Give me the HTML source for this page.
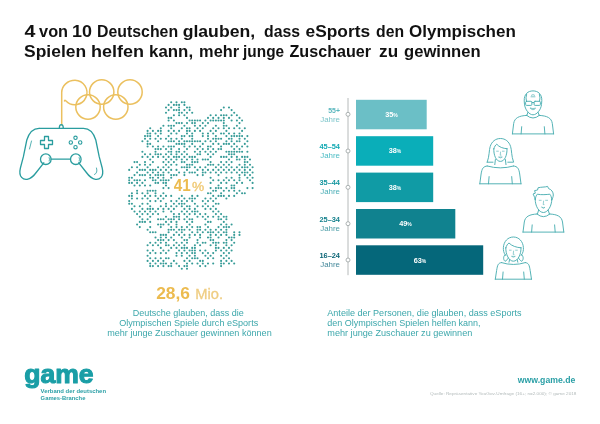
<!DOCTYPE html>
<html lang="de">
<head>
<meta charset="utf-8">
<title>eSports und Olympische Spiele</title>
<style>
html,body{margin:0;padding:0;background:#fff;}
body{width:600px;height:424px;overflow:hidden;font-family:"Liberation Sans",sans-serif;}
svg{display:block;position:absolute;left:0;top:0;}
text{font-family:"Liberation Sans",sans-serif;}
.t{fill:#111;font-weight:bold;font-size:15.6px;}
.teal{fill:#2fa3a8;}
.p{fill:#3ca7ab;font-size:8.7px;}
.lab{fill:#2a9fa6;font-size:7.4px;font-weight:bold;text-anchor:end;}
.lab2{fill:#5fb8bd;font-size:7.4px;text-anchor:end;}
.pc{fill:#fff;font-size:7.3px;font-weight:bold;text-anchor:middle;}
.ic{fill:none;stroke:#4cafb2;stroke-width:0.95;stroke-linecap:round;stroke-linejoin:round;}
</style>
</head>
<body>
<svg width="600" height="424" viewBox="0 0 600 424">
<rect width="600" height="424" fill="#fff"/>

<!-- title -->
<text class="t" y="37.3"><tspan x="24.6" textLength="10.9" lengthAdjust="spacingAndGlyphs">4</tspan> <tspan x="39.1" textLength="29.0" lengthAdjust="spacingAndGlyphs">von</tspan> <tspan x="72.1" textLength="20.0" lengthAdjust="spacingAndGlyphs">10</tspan> <tspan x="97.1" textLength="81.0" lengthAdjust="spacingAndGlyphs">Deutschen</tspan> <tspan x="182.7" textLength="72.4" lengthAdjust="spacingAndGlyphs">glauben,</tspan> <tspan x="264.1" textLength="36.0" lengthAdjust="spacingAndGlyphs">dass</tspan> <tspan x="305.5" textLength="64.6" lengthAdjust="spacingAndGlyphs">eSports</tspan> <tspan x="376.1" textLength="28.0" lengthAdjust="spacingAndGlyphs">den</tspan> <tspan x="409.1" textLength="106.7" lengthAdjust="spacingAndGlyphs">Olympischen</tspan></text>
<text class="t" y="57.3"><tspan x="24.1" textLength="62.0" lengthAdjust="spacingAndGlyphs">Spielen</tspan> <tspan x="91.1" textLength="53.0" lengthAdjust="spacingAndGlyphs">helfen</tspan> <tspan x="149.1" textLength="44.0" lengthAdjust="spacingAndGlyphs">kann,</tspan> <tspan x="199.1" textLength="40.0" lengthAdjust="spacingAndGlyphs">mehr</tspan> <tspan x="243.1" textLength="41.0" lengthAdjust="spacingAndGlyphs">junge</tspan> <tspan x="289.5" textLength="81.6" lengthAdjust="spacingAndGlyphs">Zuschauer</tspan> <tspan x="379.1" textLength="19.0" lengthAdjust="spacingAndGlyphs">zu</tspan> <tspan x="404.1" textLength="76.5" lengthAdjust="spacingAndGlyphs">gewinnen</tspan></text>

<!-- olympic rings + cable -->
<g fill="none" stroke="#ebc05f" stroke-width="1.5" stroke-linecap="round">
<path d="M61.7 125 V92.5 A13.3 12.2 0 0 1 75 80.3 A12.2 12.2 0 1 1 66 101 Q64.5 99.5 64.5 101"/>
<circle cx="101.7" cy="92" r="12.2"/>
<circle cx="130" cy="92" r="12.2"/>
<circle cx="88" cy="107" r="12.2"/>
<circle cx="115.8" cy="107" r="12.2"/>
</g>

<!-- controller -->
<g id="pad" fill="none" stroke="#2a9d9f" stroke-width="1.3" stroke-linecap="round" stroke-linejoin="round">
<path d="M59.3 128.3 Q59.3 124.6 61.3 124.6 Q63.3 124.6 63.3 128.3"/>
<path d="M39.1 128.3 H83.5 C90 128.3 93.5 132.5 95.8 140 L99.2 156.7 L102.2 168 C104.5 177.5 99 179.8 95.5 179.3 C91.5 178.8 88.5 175.5 86 172 L78.8 162.8"/>
<path d="M39.1 128.3 C32.6 128.3 29.1 132.5 26.8 140 L23.4 156.7 L20.4 168 C18.1 177.5 23.6 179.8 27.1 179.3 C31.1 178.8 34.1 175.5 36.6 172 L43.8 162.8"/>
<circle cx="45.8" cy="159.2" r="5.3"/>
<circle cx="75.8" cy="159.2" r="5.3"/>
<path d="M51.1 159.2 H70.5"/>
<path d="M49.2 157.5 Q50 159.2 49.2 161" stroke-width="0.8"/>
<path d="M79.2 157.5 Q80 159.2 79.2 161" stroke-width="0.8"/>
<path d="M44.5 136.5 h4 v4 h4 v4 h-4 v4 h-4 v-4 h-4 v-4 h4 z" stroke-width="1.3"/>
<circle cx="75.5" cy="137.8" r="1.7" stroke-width="1.1"/>
<circle cx="75.5" cy="147.2" r="1.7" stroke-width="1.1"/>
<circle cx="70.8" cy="142.5" r="1.7" stroke-width="1.1"/>
<circle cx="80.2" cy="142.5" r="1.7" stroke-width="1.1"/>
<path d="M31.5 141 L29.5 149" stroke-width="0.8"/>
<path d="M96.5 168 Q98 173 94.5 174.5" stroke-width="0.8"/>
</g>

<!-- germany dots -->
<path id="de" d="M171.2 102.3h0M176.5 102.3h0M181.8 102.3h0M184.4 102.3h0M168.6 104.9h0M173.9 104.9h0M176.5 104.9h0M179.1 104.9h0M184.4 104.9h0M166.0 107.5h0M171.2 107.5h0M179.1 107.5h0M187.0 107.5h0M189.6 107.5h0M223.8 107.5h0M229.0 107.5h0M168.6 110.1h0M173.9 110.1h0M176.5 110.1h0M179.1 110.1h0M184.4 110.1h0M189.6 110.1h0M221.1 110.1h0M231.6 110.1h0M166.0 112.7h0M179.1 112.7h0M181.8 112.7h0M187.0 112.7h0M192.2 112.7h0M234.2 112.7h0M173.9 115.3h0M179.1 115.3h0M184.4 115.3h0M210.6 115.3h0M215.9 115.3h0M221.1 115.3h0M223.8 115.3h0M226.4 115.3h0M231.6 115.3h0M236.9 115.3h0M168.6 117.9h0M171.2 117.9h0M187.0 117.9h0M208.0 117.9h0M213.2 117.9h0M218.5 117.9h0M223.8 117.9h0M229.0 117.9h0M239.5 117.9h0M168.6 120.5h0M173.9 120.5h0M189.6 120.5h0M192.2 120.5h0M194.9 120.5h0M197.5 120.5h0M200.1 120.5h0M205.4 120.5h0M210.6 120.5h0M213.2 120.5h0M215.9 120.5h0M218.5 120.5h0M221.1 120.5h0M223.8 120.5h0M231.6 120.5h0M236.9 120.5h0M242.1 120.5h0M176.5 123.1h0M179.1 123.1h0M181.8 123.1h0M187.0 123.1h0M192.2 123.1h0M194.9 123.1h0M202.8 123.1h0M208.0 123.1h0M223.8 123.1h0M239.5 123.1h0M163.4 125.7h0M168.6 125.7h0M171.2 125.7h0M173.9 125.7h0M184.4 125.7h0M194.9 125.7h0M200.1 125.7h0M205.4 125.7h0M215.9 125.7h0M223.8 125.7h0M226.4 125.7h0M236.9 125.7h0M150.2 128.3h0M160.8 128.3h0M171.2 128.3h0M181.8 128.3h0M187.0 128.3h0M189.6 128.3h0M197.5 128.3h0M202.8 128.3h0M213.2 128.3h0M218.5 128.3h0M223.8 128.3h0M229.0 128.3h0M234.2 128.3h0M239.5 128.3h0M244.8 128.3h0M147.6 130.9h0M152.9 130.9h0M158.1 130.9h0M160.8 130.9h0M168.6 130.9h0M173.9 130.9h0M179.1 130.9h0M187.0 130.9h0M189.6 130.9h0M194.9 130.9h0M200.1 130.9h0M210.6 130.9h0M215.9 130.9h0M226.4 130.9h0M242.1 130.9h0M147.6 133.5h0M150.2 133.5h0M155.5 133.5h0M160.8 133.5h0M171.2 133.5h0M176.5 133.5h0M187.0 133.5h0M192.2 133.5h0M202.8 133.5h0M208.0 133.5h0M213.2 133.5h0M221.1 133.5h0M223.8 133.5h0M229.0 133.5h0M234.2 133.5h0M239.5 133.5h0M145.0 136.1h0M147.6 136.1h0M150.2 136.1h0M158.1 136.1h0M168.6 136.1h0M181.8 136.1h0M184.4 136.1h0M189.6 136.1h0M192.2 136.1h0M202.8 136.1h0M208.0 136.1h0M215.9 136.1h0M226.4 136.1h0M231.6 136.1h0M234.2 136.1h0M236.9 136.1h0M239.5 136.1h0M242.1 136.1h0M247.4 136.1h0M145.0 138.7h0M150.2 138.7h0M155.5 138.7h0M160.8 138.7h0M166.0 138.7h0M171.2 138.7h0M176.5 138.7h0M181.8 138.7h0M192.2 138.7h0M208.0 138.7h0M213.2 138.7h0M215.9 138.7h0M218.5 138.7h0M221.1 138.7h0M229.0 138.7h0M231.6 138.7h0M239.5 138.7h0M244.8 138.7h0M142.4 141.3h0M147.6 141.3h0M158.1 141.3h0M168.6 141.3h0M171.2 141.3h0M173.9 141.3h0M179.1 141.3h0M184.4 141.3h0M187.0 141.3h0M189.6 141.3h0M192.2 141.3h0M194.9 141.3h0M197.5 141.3h0M200.1 141.3h0M205.4 141.3h0M210.6 141.3h0M215.9 141.3h0M226.4 141.3h0M231.6 141.3h0M236.9 141.3h0M239.5 141.3h0M247.4 141.3h0M147.6 143.9h0M150.2 143.9h0M176.5 143.9h0M179.1 143.9h0M181.8 143.9h0M184.4 143.9h0M192.2 143.9h0M202.8 143.9h0M213.2 143.9h0M218.5 143.9h0M223.8 143.9h0M226.4 143.9h0M229.0 143.9h0M234.2 143.9h0M244.8 143.9h0M147.6 146.5h0M152.9 146.5h0M158.1 146.5h0M163.4 146.5h0M168.6 146.5h0M171.2 146.5h0M173.9 146.5h0M184.4 146.5h0M189.6 146.5h0M194.9 146.5h0M200.1 146.5h0M208.0 146.5h0M210.6 146.5h0M221.1 146.5h0M231.6 146.5h0M236.9 146.5h0M242.1 146.5h0M247.4 146.5h0M155.5 149.1h0M158.1 149.1h0M160.8 149.1h0M166.0 149.1h0M171.2 149.1h0M179.1 149.1h0M187.0 149.1h0M197.5 149.1h0M202.8 149.1h0M208.0 149.1h0M213.2 149.1h0M218.5 149.1h0M221.1 149.1h0M234.2 149.1h0M239.5 149.1h0M142.4 151.7h0M155.5 151.7h0M168.6 151.7h0M171.2 151.7h0M176.5 151.7h0M179.1 151.7h0M184.4 151.7h0M194.9 151.7h0M200.1 151.7h0M205.4 151.7h0M210.6 151.7h0M215.9 151.7h0M226.4 151.7h0M229.0 151.7h0M231.6 151.7h0M234.2 151.7h0M236.9 151.7h0M239.5 151.7h0M242.1 151.7h0M247.4 151.7h0M145.0 154.3h0M150.2 154.3h0M155.5 154.3h0M158.1 154.3h0M160.8 154.3h0M166.0 154.3h0M171.2 154.3h0M176.5 154.3h0M181.8 154.3h0M187.0 154.3h0M197.5 154.3h0M200.1 154.3h0M208.0 154.3h0M213.2 154.3h0M229.0 154.3h0M231.6 154.3h0M234.2 154.3h0M142.4 156.9h0M147.6 156.9h0M152.9 156.9h0M158.1 156.9h0M163.4 156.9h0M168.6 156.9h0M173.9 156.9h0M176.5 156.9h0M179.1 156.9h0M184.4 156.9h0M189.6 156.9h0M192.2 156.9h0M194.9 156.9h0M210.6 156.9h0M221.1 156.9h0M223.8 156.9h0M226.4 156.9h0M231.6 156.9h0M236.9 156.9h0M242.1 156.9h0M244.8 156.9h0M247.4 156.9h0M150.2 159.5h0M166.0 159.5h0M171.2 159.5h0M176.5 159.5h0M181.8 159.5h0M187.0 159.5h0M192.2 159.5h0M197.5 159.5h0M202.8 159.5h0M205.4 159.5h0M208.0 159.5h0M229.0 159.5h0M236.9 159.5h0M239.5 159.5h0M244.8 159.5h0M250.0 159.5h0M134.5 162.1h0M137.1 162.1h0M145.0 162.1h0M152.9 162.1h0M163.4 162.1h0M168.6 162.1h0M173.9 162.1h0M181.8 162.1h0M184.4 162.1h0M192.2 162.1h0M194.9 162.1h0M197.5 162.1h0M210.6 162.1h0M221.1 162.1h0M226.4 162.1h0M231.6 162.1h0M244.8 162.1h0M247.4 162.1h0M139.8 164.7h0M145.0 164.7h0M150.2 164.7h0M166.0 164.7h0M171.2 164.7h0M176.5 164.7h0M187.0 164.7h0M189.6 164.7h0M192.2 164.7h0M208.0 164.7h0M210.6 164.7h0M213.2 164.7h0M218.5 164.7h0M223.8 164.7h0M229.0 164.7h0M239.5 164.7h0M244.8 164.7h0M250.0 164.7h0M131.9 167.3h0M137.1 167.3h0M147.6 167.3h0M158.1 167.3h0M163.4 167.3h0M168.6 167.3h0M181.8 167.3h0M184.4 167.3h0M187.0 167.3h0M189.6 167.3h0M194.9 167.3h0M200.1 167.3h0M205.4 167.3h0M215.9 167.3h0M221.1 167.3h0M226.4 167.3h0M231.6 167.3h0M236.9 167.3h0M242.1 167.3h0M244.8 167.3h0M247.4 167.3h0M252.6 167.3h0M129.2 169.9h0M139.8 169.9h0M142.4 169.9h0M145.0 169.9h0M150.2 169.9h0M152.9 169.9h0M155.5 169.9h0M160.8 169.9h0M166.0 169.9h0M171.2 169.9h0M176.5 169.9h0M187.0 169.9h0M197.5 169.9h0M202.8 169.9h0M208.0 169.9h0M213.2 169.9h0M218.5 169.9h0M223.8 169.9h0M229.0 169.9h0M234.2 169.9h0M239.5 169.9h0M244.8 169.9h0M250.0 169.9h0M137.1 172.5h0M147.6 172.5h0M152.9 172.5h0M158.1 172.5h0M163.4 172.5h0M168.6 172.5h0M179.1 172.5h0M184.4 172.5h0M189.6 172.5h0M192.2 172.5h0M194.9 172.5h0M202.8 172.5h0M205.4 172.5h0M210.6 172.5h0M215.9 172.5h0M221.1 172.5h0M226.4 172.5h0M231.6 172.5h0M236.9 172.5h0M242.1 172.5h0M244.8 172.5h0M247.4 172.5h0M252.6 172.5h0M134.5 175.1h0M139.8 175.1h0M142.4 175.1h0M145.0 175.1h0M150.2 175.1h0M155.5 175.1h0M158.1 175.1h0M160.8 175.1h0M163.4 175.1h0M171.2 175.1h0M173.9 175.1h0M176.5 175.1h0M184.4 175.1h0M197.5 175.1h0M202.8 175.1h0M218.5 175.1h0M239.5 175.1h0M244.8 175.1h0M250.0 175.1h0M129.2 177.7h0M131.9 177.7h0M150.2 177.7h0M152.9 177.7h0M158.1 177.7h0M163.4 177.7h0M171.2 177.7h0M210.6 177.7h0M226.4 177.7h0M231.6 177.7h0M239.5 177.7h0M247.4 177.7h0M252.6 177.7h0M129.2 180.3h0M134.5 180.3h0M137.1 180.3h0M139.8 180.3h0M145.0 180.3h0M152.9 180.3h0M155.5 180.3h0M160.8 180.3h0M163.4 180.3h0M166.0 180.3h0M168.6 180.3h0M213.2 180.3h0M218.5 180.3h0M223.8 180.3h0M229.0 180.3h0M234.2 180.3h0M239.5 180.3h0M250.0 180.3h0M129.2 182.9h0M131.9 182.9h0M137.1 182.9h0M142.4 182.9h0M155.5 182.9h0M158.1 182.9h0M163.4 182.9h0M166.0 182.9h0M210.6 182.9h0M221.1 182.9h0M226.4 182.9h0M236.9 182.9h0M242.1 182.9h0M252.6 182.9h0M134.5 185.5h0M139.8 185.5h0M145.0 185.5h0M150.2 185.5h0M166.0 185.5h0M218.5 185.5h0M231.6 185.5h0M234.2 185.5h0M163.4 188.1h0M168.6 188.1h0M210.6 188.1h0M215.9 188.1h0M218.5 188.1h0M221.1 188.1h0M226.4 188.1h0M231.6 188.1h0M234.2 188.1h0M247.4 188.1h0M252.6 188.1h0M137.1 190.7h0M147.6 190.7h0M150.2 190.7h0M152.9 190.7h0M155.5 190.7h0M213.2 190.7h0M215.9 190.7h0M223.8 190.7h0M229.0 190.7h0M234.2 190.7h0M239.5 190.7h0M131.9 193.3h0M137.1 193.3h0M142.4 193.3h0M147.6 193.3h0M155.5 193.3h0M163.4 193.3h0M208.0 193.3h0M210.6 193.3h0M221.1 193.3h0M236.9 193.3h0M242.1 193.3h0M244.8 193.3h0M129.2 195.9h0M131.9 195.9h0M145.0 195.9h0M150.2 195.9h0M155.5 195.9h0M160.8 195.9h0M166.0 195.9h0M171.2 195.9h0M181.8 195.9h0M192.2 195.9h0M197.5 195.9h0M213.2 195.9h0M218.5 195.9h0M221.1 195.9h0M223.8 195.9h0M229.0 195.9h0M234.2 195.9h0M131.9 198.5h0M137.1 198.5h0M142.4 198.5h0M147.6 198.5h0M158.1 198.5h0M163.4 198.5h0M179.1 198.5h0M184.4 198.5h0M189.6 198.5h0M192.2 198.5h0M194.9 198.5h0M205.4 198.5h0M210.6 198.5h0M215.9 198.5h0M226.4 198.5h0M129.2 201.1h0M150.2 201.1h0M155.5 201.1h0M160.8 201.1h0M171.2 201.1h0M176.5 201.1h0M181.8 201.1h0M187.0 201.1h0M192.2 201.1h0M202.8 201.1h0M208.0 201.1h0M213.2 201.1h0M129.2 203.7h0M131.9 203.7h0M142.4 203.7h0M147.6 203.7h0M166.0 203.7h0M173.9 203.7h0M179.1 203.7h0M181.8 203.7h0M184.4 203.7h0M194.9 203.7h0M205.4 203.7h0M215.9 203.7h0M218.5 203.7h0M134.5 206.3h0M139.8 206.3h0M150.2 206.3h0M160.8 206.3h0M166.0 206.3h0M171.2 206.3h0M176.5 206.3h0M181.8 206.3h0M187.0 206.3h0M189.6 206.3h0M197.5 206.3h0M202.8 206.3h0M208.0 206.3h0M213.2 206.3h0M131.9 208.9h0M142.4 208.9h0M147.6 208.9h0M150.2 208.9h0M152.9 208.9h0M158.1 208.9h0M163.4 208.9h0M168.6 208.9h0M173.9 208.9h0M184.4 208.9h0M189.6 208.9h0M194.9 208.9h0M205.4 208.9h0M210.6 208.9h0M215.9 208.9h0M134.5 211.5h0M139.8 211.5h0M145.0 211.5h0M150.2 211.5h0M155.5 211.5h0M163.4 211.5h0M171.2 211.5h0M181.8 211.5h0M187.0 211.5h0M192.2 211.5h0M194.9 211.5h0M197.5 211.5h0M213.2 211.5h0M218.5 211.5h0M137.1 214.1h0M142.4 214.1h0M147.6 214.1h0M152.9 214.1h0M158.1 214.1h0M173.9 214.1h0M179.1 214.1h0M184.4 214.1h0M189.6 214.1h0M194.9 214.1h0M200.1 214.1h0M205.4 214.1h0M215.9 214.1h0M221.1 214.1h0M139.8 216.7h0M150.2 216.7h0M166.0 216.7h0M173.9 216.7h0M176.5 216.7h0M179.1 216.7h0M187.0 216.7h0M197.5 216.7h0M202.8 216.7h0M208.0 216.7h0M213.2 216.7h0M218.5 216.7h0M223.8 216.7h0M226.4 216.7h0M142.4 219.3h0M147.6 219.3h0M158.1 219.3h0M160.8 219.3h0M163.4 219.3h0M168.6 219.3h0M171.2 219.3h0M173.9 219.3h0M179.1 219.3h0M184.4 219.3h0M189.6 219.3h0M192.2 219.3h0M205.4 219.3h0M218.5 219.3h0M221.1 219.3h0M226.4 219.3h0M139.8 221.9h0M142.4 221.9h0M145.0 221.9h0M150.2 221.9h0M166.0 221.9h0M171.2 221.9h0M176.5 221.9h0M187.0 221.9h0M192.2 221.9h0M208.0 221.9h0M210.6 221.9h0M223.8 221.9h0M137.1 224.5h0M158.1 224.5h0M160.8 224.5h0M163.4 224.5h0M168.6 224.5h0M176.5 224.5h0M189.6 224.5h0M205.4 224.5h0M221.1 224.5h0M226.4 224.5h0M231.6 224.5h0M139.8 227.1h0M150.2 227.1h0M160.8 227.1h0M171.2 227.1h0M176.5 227.1h0M181.8 227.1h0M187.0 227.1h0M192.2 227.1h0M197.5 227.1h0M200.1 227.1h0M208.0 227.1h0M218.5 227.1h0M223.8 227.1h0M226.4 227.1h0M229.0 227.1h0M147.6 229.7h0M168.6 229.7h0M171.2 229.7h0M173.9 229.7h0M179.1 229.7h0M181.8 229.7h0M184.4 229.7h0M189.6 229.7h0M197.5 229.7h0M200.1 229.7h0M205.4 229.7h0M210.6 229.7h0M215.9 229.7h0M221.1 229.7h0M226.4 229.7h0M150.2 232.3h0M152.9 232.3h0M155.5 232.3h0M168.6 232.3h0M176.5 232.3h0M181.8 232.3h0M192.2 232.3h0M197.5 232.3h0M202.8 232.3h0M208.0 232.3h0M210.6 232.3h0M213.2 232.3h0M218.5 232.3h0M223.8 232.3h0M226.4 232.3h0M234.2 232.3h0M239.5 232.3h0M160.8 234.9h0M163.4 234.9h0M166.0 234.9h0M173.9 234.9h0M179.1 234.9h0M184.4 234.9h0M189.6 234.9h0M194.9 234.9h0M200.1 234.9h0M210.6 234.9h0M215.9 234.9h0M221.1 234.9h0M226.4 234.9h0M234.2 234.9h0M239.5 234.9h0M155.5 237.5h0M160.8 237.5h0M166.0 237.5h0M171.2 237.5h0M181.8 237.5h0M189.6 237.5h0M200.1 237.5h0M208.0 237.5h0M210.6 237.5h0M218.5 237.5h0M229.0 237.5h0M231.6 237.5h0M234.2 237.5h0M158.1 240.1h0M160.8 240.1h0M163.4 240.1h0M168.6 240.1h0M173.9 240.1h0M184.4 240.1h0M187.0 240.1h0M197.5 240.1h0M210.6 240.1h0M213.2 240.1h0M226.4 240.1h0M231.6 240.1h0M150.2 242.7h0M155.5 242.7h0M160.8 242.7h0M166.0 242.7h0M176.5 242.7h0M181.8 242.7h0M187.0 242.7h0M197.5 242.7h0M202.8 242.7h0M205.4 242.7h0M213.2 242.7h0M215.9 242.7h0M218.5 242.7h0M223.8 242.7h0M226.4 242.7h0M234.2 242.7h0M147.6 245.3h0M152.9 245.3h0M158.1 245.3h0M166.0 245.3h0M168.6 245.3h0M173.9 245.3h0M179.1 245.3h0M184.4 245.3h0M194.9 245.3h0M200.1 245.3h0M210.6 245.3h0M215.9 245.3h0M226.4 245.3h0M231.6 245.3h0M160.8 247.9h0M171.2 247.9h0M176.5 247.9h0M181.8 247.9h0M184.4 247.9h0M187.0 247.9h0M192.2 247.9h0M194.9 247.9h0M215.9 247.9h0M218.5 247.9h0M223.8 247.9h0M229.0 247.9h0M147.6 250.5h0M152.9 250.5h0M163.4 250.5h0M168.6 250.5h0M179.1 250.5h0M184.4 250.5h0M189.6 250.5h0M192.2 250.5h0M194.9 250.5h0M200.1 250.5h0M205.4 250.5h0M215.9 250.5h0M221.1 250.5h0M226.4 250.5h0M231.6 250.5h0M150.2 253.1h0M155.5 253.1h0M160.8 253.1h0M166.0 253.1h0M176.5 253.1h0M181.8 253.1h0M187.0 253.1h0M192.2 253.1h0M194.9 253.1h0M202.8 253.1h0M208.0 253.1h0M213.2 253.1h0M223.8 253.1h0M229.0 253.1h0M147.6 255.7h0M176.5 255.7h0M181.8 255.7h0M189.6 255.7h0M194.9 255.7h0M205.4 255.7h0M210.6 255.7h0M221.1 255.7h0M226.4 255.7h0M150.2 258.3h0M155.5 258.3h0M160.8 258.3h0M166.0 258.3h0M168.6 258.3h0M187.0 258.3h0M192.2 258.3h0M194.9 258.3h0M197.5 258.3h0M208.0 258.3h0M213.2 258.3h0M223.8 258.3h0M229.0 258.3h0M147.6 260.9h0M152.9 260.9h0M158.1 260.9h0M163.4 260.9h0M173.9 260.9h0M184.4 260.9h0M189.6 260.9h0M200.1 260.9h0M202.8 260.9h0M221.1 260.9h0M226.4 260.9h0M231.6 260.9h0M150.2 263.5h0M155.5 263.5h0M160.8 263.5h0M163.4 263.5h0M166.0 263.5h0M171.2 263.5h0M176.5 263.5h0M187.0 263.5h0M192.2 263.5h0M197.5 263.5h0M202.8 263.5h0M208.0 263.5h0M213.2 263.5h0M221.1 263.5h0M223.8 263.5h0M229.0 263.5h0M234.2 263.5h0M150.2 266.1h0M152.9 266.1h0M158.1 266.1h0M163.4 266.1h0M168.6 266.1h0M171.2 266.1h0M179.1 266.1h0M184.4 266.1h0M187.0 266.1h0M200.1 266.1h0M205.4 266.1h0M221.1 266.1h0M181.8 268.7h0M187.0 268.7h0" fill="none" stroke="#389c98" stroke-width="2.1" stroke-linecap="round"/>
<text y="190.7" fill="#ecbb4f"><tspan x="173.8" font-size="16.2" font-weight="bold" textLength="17" lengthAdjust="spacingAndGlyphs">41</tspan><tspan x="192" font-size="13.6" fill="#efc872" stroke="#efc872" stroke-width="0.35" textLength="12.2" lengthAdjust="spacingAndGlyphs">%</tspan></text>

<!-- left caption -->
<text y="299.2" fill="#ecbb4f"><tspan x="156.2" font-size="16.6" font-weight="bold" textLength="33.8" lengthAdjust="spacingAndGlyphs">28,6</tspan> <tspan x="195.2" font-size="14.2" fill="#efcd82" stroke="#efcd82" stroke-width="0.3" textLength="27.8" lengthAdjust="spacingAndGlyphs">Mio.</tspan></text>
<text class="p" x="132.7" y="315.7" textLength="111" lengthAdjust="spacingAndGlyphs">Deutsche glauben, dass die</text>
<text class="p" x="119.2" y="326.1" textLength="139" lengthAdjust="spacingAndGlyphs">Olympischen Spiele durch eSports</text>
<text class="p" x="107.2" y="336.2" textLength="164.5" lengthAdjust="spacingAndGlyphs">mehr junge Zuschauer gewinnen können</text>

<!-- bar chart -->
<line x1="348" y1="98" x2="348" y2="275.2" stroke="#b6baba" stroke-width="1"/>
<g fill="#fff" stroke="#a3a9a9" stroke-width="0.9">
<circle cx="348" cy="114.3" r="2"/>
<circle cx="348" cy="151" r="2"/>
<circle cx="348" cy="187.3" r="2"/>
<circle cx="348" cy="223.7" r="2"/>
<circle cx="348" cy="260" r="2"/>
</g>
<rect x="356" y="99.8" width="70.7" height="29.5" fill="#6bbfc6"/>
<rect x="356" y="136.2" width="77.2" height="29.5" fill="#0aaeb9"/>
<rect x="356" y="172.6" width="77.2" height="29.5" fill="#109ba5"/>
<rect x="356" y="209" width="99.3" height="29.5" fill="#10828f"/>
<rect x="356" y="245.3" width="127.2" height="29.5" fill="#05677a"/>

<text class="lab" textLength="11.8" lengthAdjust="spacingAndGlyphs" x="340" y="112.6" style="fill:#5ab7be">55+</text><text class="lab2" textLength="19.8" lengthAdjust="spacingAndGlyphs" x="340" y="121.5" style="fill:#7cc5ca">Jahre</text>
<text class="lab" textLength="20.6" lengthAdjust="spacingAndGlyphs" x="340" y="149" style="fill:#12a9b3">45–54</text><text class="lab2" textLength="19.8" lengthAdjust="spacingAndGlyphs" x="340" y="157.9" style="fill:#4bbcc4">Jahre</text>
<text class="lab" textLength="20.6" lengthAdjust="spacingAndGlyphs" x="340" y="185.4" style="fill:#14969f">35–44</text><text class="lab2" textLength="19.8" lengthAdjust="spacingAndGlyphs" x="340" y="194.3" style="fill:#4aaeb6">Jahre</text>
<text class="lab" textLength="20.6" lengthAdjust="spacingAndGlyphs" x="340" y="221.8" style="fill:#14808c">25–34</text><text class="lab2" textLength="19.8" lengthAdjust="spacingAndGlyphs" x="340" y="230.7" style="fill:#4a9ca6">Jahre</text>
<text class="lab" textLength="20.6" lengthAdjust="spacingAndGlyphs" x="340" y="258.1" style="fill:#0c6576">16–24</text><text class="lab2" textLength="19.8" lengthAdjust="spacingAndGlyphs" x="340" y="267" style="fill:#44889a">Jahre</text>

<text class="pc" x="391.5" y="117">35<tspan font-size="5">%</tspan></text>
<text class="pc" x="395" y="153.4">38<tspan font-size="5">%</tspan></text>
<text class="pc" x="395" y="189.8">38<tspan font-size="5">%</tspan></text>
<text class="pc" x="405.5" y="226.2">49<tspan font-size="5">%</tspan></text>
<text class="pc" x="420" y="262.5">63<tspan font-size="5">%</tspan></text>

<!-- right caption -->
<text class="p" x="327.3" y="315.7" textLength="194.2" lengthAdjust="spacingAndGlyphs">Anteile der Personen, die glauben, dass eSports</text>
<text class="p" x="327.3" y="326" textLength="153.3" lengthAdjust="spacingAndGlyphs">den Olympischen Spielen helfen kann,</text>
<text class="p" x="327.3" y="336.2" textLength="145" lengthAdjust="spacingAndGlyphs">mehr junge Zuschauer zu gewinnen</text>

<!-- people -->
<g class="ic">
<path d="M526.7 115.4 Q533.0 120.8 539.3 115.4 M526.7 115.4 C518.8 115.8 514.6 117.9 513.7 123.4 L512.4 133.9 M521.1 133.9 L521.7 126.7 M539.3 115.4 C547.2 115.8 551.4 117.9 552.3 123.4 L553.6 133.9 M544.9 133.9 L544.3 126.7 M512.4 133.9 H553.6"/>
<path d="M524.2 100.5 C524 94 528 90.9 533 90.9 C538 90.9 542 94 541.8 100.5 L541.5 104.5 C541 109.5 537 114.8 533 114.8 C529 114.8 525 109.5 524.5 104.5 Z"/>
<path d="M526.6 94.2 Q525.4 98 526.4 101.2 M539.4 94.2 Q540.6 98 539.6 101.2"/>
<rect x="525.6" y="101.3" width="6.3" height="4.1" rx="1"/><rect x="534.1" y="101.3" width="6.3" height="4.1" rx="1"/><path d="M531.9 102.6 Q533 101.8 534.1 102.6"/>
<path d="M531.4 95.2 Q533 93.8 534.6 95.2 M531 96.8 H535" stroke-width="0.7"/>
<path d="M530.4 108.2 Q533 108.9 535.6 108.2 Q533 111.4 530.4 108.2 Z" stroke-width="0.7"/>
<path d="M528 112.2 L526.8 115.4 M538 112.2 L539.2 115.4"/>
<path d="M487.2 166.0 Q500.4 169.8 513.6 166.0 M487.2 166.0 C483.1 166.4 482.0 168.5 481.1 174.0 L479.8 183.8 M488.5 183.8 L489.1 176.6 M513.6 166.0 C517.7 166.4 518.8 168.5 519.7 174.0 L521.0 183.8 M512.3 183.8 L511.7 176.6 M479.8 183.8 H521.0"/>
<path d="M487.2 162.2 C489.5 156 489 150 490.2 146.5 C491.8 141.5 495.5 138.5 500.4 138.5 C505.3 138.5 509 141.5 510.6 146.5 C511.8 150 511.3 156 513.6 162.2 L507.8 162.2 M493 162.2 L487.2 162.2"/>
<path d="M493.8 148.5 C493.5 155 496 161.4 500.4 161.4 C504.8 161.4 507.3 155 507 148.5"/>
<path d="M493.8 149 C494.5 146.5 495.5 145 496.8 144.2 C499 147 503 148.5 507 148.7"/>
<path d="M496.6 151.2 H498.4 M502.4 151.2 H504.2 M500.6 152 L500.2 155.2 H501 M498.8 157.3 Q500.4 158.7 502 157.3 Z" stroke-width="0.6"/>
<path d="M495.4 159.5 L494.8 164.6 M505.4 159.5 L506 164.6"/>
<path d="M537.0 214.0 Q543.4 219.6 549.8 214.0 M537.0 214.0 C529.3 214.4 525.2 216.5 524.3 222.0 L523.0 232.1 M531.6 232.1 L532.2 224.9 M549.8 214.0 C557.5 214.4 561.6 216.5 562.5 222.0 L563.8 232.1 M555.2 232.1 L554.6 224.9 M523.0 232.1 H563.8"/>
<path d="M535.2 199.5 C534.5 196.5 533.6 195 533 194 L535.3 193.2 L534.6 190.6 L537.6 190 L538 187.8 C541 186.9 545 187.3 547.6 186.4 L548.6 188.6 C551.5 189.5 553.3 192 553.3 195 C553.3 197 552.3 198.5 551.8 199.8"/>
<path d="M535.2 199.5 C535.6 197 536.3 195.2 537.3 194.2 C541 195 547 194.6 549.8 194.2 C551 195.5 551.6 197.5 551.8 199.8"/>
<path d="M535.2 199 C535 206 539 212.5 543.4 212.5 C547.8 212.5 551.9 206 551.8 199"/>
<path d="M539.2 200.3 H541.2 M545.6 200.3 H547.6 M543.6 201 L543.2 204.6 H544 M541.8 207.3 Q543.4 208.1 545 207.3 Q543.4 209.6 541.8 207.3 Z" stroke-width="0.6"/>
<path d="M538.6 210.2 L537.4 214 M548.2 210.2 L549.4 214"/>
<path d="M501.4 262.6 Q513.4 266.4 525.4 262.6 M501.4 262.6 C498.0 263.0 497.5 265.1 496.6 270.6 L495.3 279.2 M502.5 279.2 L503.1 272.0 M525.4 262.6 C528.8 263.0 529.3 265.1 530.2 270.6 L531.5 279.2 M524.3 279.2 L523.7 272.0 M495.3 279.2 H531.5"/>
<path d="M505.6 255.5 C503.6 253 503.2 250 503.4 247.5 C503.8 241.5 507.8 237 513.4 237 C519 237 523 241.5 523.4 247.5 C523.6 250 523.2 253 521.2 255.5"/>
<path d="M505.3 254.5 C503.2 256 503 259.5 505 261.3 C506.6 260.5 507.8 259.3 508.2 258 M521.5 254.5 C523.6 256 523.8 259.5 521.8 261.3 C520.2 260.5 519 259.3 518.6 258"/>
<path d="M505.8 247.5 C505.5 254.5 509 261.2 513.4 261.2 C517.8 261.2 521.3 254.5 521 247.5"/>
<path d="M505.8 248 C506.5 245.5 507.6 243.8 509 243 C511.5 245.8 516.5 247.6 521 247.8"/>
<path d="M509.4 250.2 H511.2 M515.6 250.2 H517.4 M513.6 251 L513.2 254.4 H514 M511.8 256.6 Q513.4 258 515 256.6 Z" stroke-width="0.6"/>
<path d="M509.6 259.6 L509 262.2 M517.2 259.6 L517.8 262.2"/>
</g>

<!-- logo -->
<text x="24.2" y="383.4" font-size="26.3" font-weight="bold" fill="#1a9ea6" stroke="#1a9ea6" stroke-width="1.1" stroke-linejoin="round" textLength="69.4" lengthAdjust="spacingAndGlyphs">game</text>
<text x="40.6" y="393.4" font-size="5.6" font-weight="bold" fill="#2a9fa6" textLength="65.4" lengthAdjust="spacingAndGlyphs">Verband der deutschen</text>
<text x="40.6" y="400.1" font-size="5.6" font-weight="bold" fill="#2a9fa6" textLength="44.8" lengthAdjust="spacingAndGlyphs">Games-Branche</text>

<!-- footer right -->
<text x="517.8" y="382.6" font-size="8.8" font-weight="bold" fill="#2a9fa6" textLength="57.5" lengthAdjust="spacingAndGlyphs">www.game.de</text>
<text x="430" y="395.3" font-size="4.3" fill="#b2baba" textLength="146.4" lengthAdjust="spacingAndGlyphs">Quelle: Repräsentative YouGov-Umfrage (16+; n=2.000); © game 2018</text>
</svg>
</body>
</html>
